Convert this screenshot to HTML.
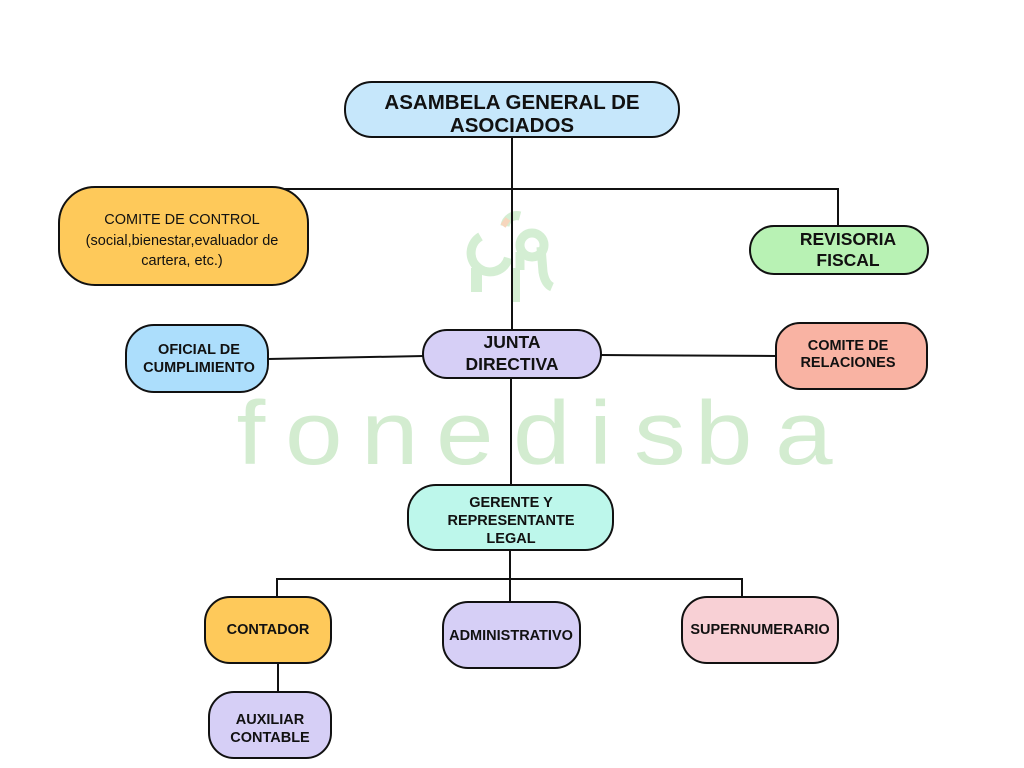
<!DOCTYPE html>
<html><head><meta charset="utf-8"><style>
html,body{margin:0;padding:0;background:#fff;}
svg{display:block;}
text{font-family:"Liberation Sans",Arial,sans-serif;fill:#111;text-anchor:middle;}
.b{font-weight:bold;font-size:14.5px;}
</style></head><body>
<svg width="1024" height="768" viewBox="0 0 1024 768" xmlns="http://www.w3.org/2000/svg">
<rect width="1024" height="768" fill="#fff"/>
<!-- watermark logo -->
<g fill="none" stroke="#d4eed3" stroke-width="9" stroke-linecap="butt">
  <path d="M480.5 236.5 A19 19 0 1 0 508.4 258"/>
  <circle cx="532" cy="245" r="12"/>
  <path d="M541 247 L543 272 Q 545 284 552 287"/>
  <path d="M520 252 L520 270"/>
  <path d="M505 226 A 12 12 0 0 1 520 216"/>
</g>
<rect x="471" y="268" width="11" height="24" fill="#d4eed3"/>
<rect x="512" y="268" width="8" height="34" fill="#d4eed3"/>
<path d="M503 226 L508 219" stroke="#f6d6bd" stroke-width="6"/>
<!-- watermark text -->
<g transform="scale(1.15,1)">
<text x="205.7 247.8 313.9 379.1 446.1 512.2 551.3 604.3 673.9" y="464" style="font-size:90px;fill:#d3ecd0;font-weight:normal;text-anchor:start">fonedisba</text>
</g>
<!-- connectors -->
<g stroke="#111" stroke-width="2" fill="none">
  <line x1="512" y1="137" x2="512" y2="331"/>
  <polyline points="283,189 838,189 838,227"/>
  <line x1="268" y1="359" x2="424" y2="356"/>
  <line x1="600" y1="355" x2="777" y2="356"/>
  <line x1="511" y1="377" x2="511" y2="486"/>
  <line x1="510" y1="549" x2="510" y2="603"/>
  <polyline points="277,598 277,579 742,579 742,598"/>
  <line x1="278" y1="662" x2="278" y2="693"/>
</g>
<!-- boxes -->
<g stroke="#111" stroke-width="2">
  <rect x="345" y="82" width="334" height="55" rx="27" fill="#c6e7fb"/>
  <rect x="59" y="187" width="249" height="98" rx="36" fill="#fec95a"/>
  <rect x="750" y="226" width="178" height="48" rx="24" fill="#b8f2b4"/>
  <rect x="126" y="325" width="142" height="67" rx="28" fill="#acdefc"/>
  <rect x="423" y="330" width="178" height="48" rx="24" fill="#d6cff6"/>
  <rect x="776" y="323" width="151" height="66" rx="24" fill="#f9b3a3"/>
  <rect x="408" y="485" width="205" height="65" rx="28" fill="#bdf7eb"/>
  <rect x="205" y="597" width="126" height="66" rx="25" fill="#fec95a"/>
  <rect x="443" y="602" width="137" height="66" rx="25" fill="#d6cff6"/>
  <rect x="682" y="597" width="156" height="66" rx="25" fill="#f8d0d5"/>
  <rect x="209" y="692" width="122" height="66" rx="25" fill="#d6cff6"/>
</g>
<!-- labels -->
<text x="512" y="109" style="font-weight:bold;font-size:20.5px">ASAMBELA GENERAL DE</text>
<text x="512" y="132" style="font-weight:bold;font-size:20.5px">ASOCIADOS</text>
<text x="182" y="224" style="font-size:14.5px">COMITE DE CONTROL</text>
<text x="182" y="245" style="font-size:14.5px">(social,bienestar,evaluador de</text>
<text x="182" y="265" style="font-size:14.5px">cartera, etc.)</text>
<text x="848" y="245" style="font-weight:bold;font-size:17.5px">REVISORIA</text>
<text x="848" y="266" style="font-weight:bold;font-size:17.5px">FISCAL</text>
<text x="199" y="354" class="b">OFICIAL DE</text>
<text x="199" y="372" class="b">CUMPLIMIENTO</text>
<text x="512" y="348" style="font-weight:bold;font-size:17.5px">JUNTA</text>
<text x="512" y="370" style="font-weight:bold;font-size:17.5px">DIRECTIVA</text>
<text x="848" y="350" class="b">COMITE DE</text>
<text x="848" y="367" class="b">RELACIONES</text>
<text x="511" y="507" class="b">GERENTE Y</text>
<text x="511" y="525" class="b">REPRESENTANTE</text>
<text x="511" y="543" class="b">LEGAL</text>
<text x="268" y="634" class="b">CONTADOR</text>
<text x="511" y="640" class="b">ADMINISTRATIVO</text>
<text x="760" y="634" class="b">SUPERNUMERARIO</text>
<text x="270" y="724" class="b">AUXILIAR</text>
<text x="270" y="742" class="b">CONTABLE</text>
</svg>
</body></html>
